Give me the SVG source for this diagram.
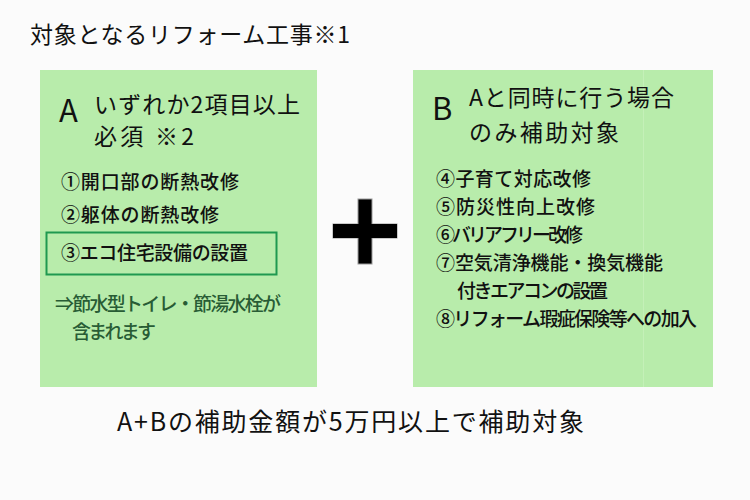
<svg xmlns="http://www.w3.org/2000/svg" width="750" height="500" viewBox="0 0 750 500">
<style>
text{font-family:"Noto Sans CJK JP","Noto Sans",sans-serif;fill:#111;font-weight:400}
.box{fill:#b8ecab}
.big{font-size:31px}
.head{font-size:23px}
.item{font-size:19px;font-weight:500}
.note{font-size:19px;fill:#285c35;font-weight:500}
.plus{fill:#000;stroke:#999;stroke-width:1}
</style>
<rect width="750" height="500" fill="#fbfbfb"/>
<g id="title"><text x="30" y="43" font-size="23" textLength="320" lengthAdjust="spacing">対象となるリフォーム工事※1</text></g>
<g id="nodeA">
<rect class="box" x="40" y="70" width="277" height="317"/>
<text class="big" x="59" y="122">A</text>
<text class="head" x="94" y="113" textLength="206" lengthAdjust="spacing">いずれか2項目以上</text>
<text class="head" x="94" y="145" textLength="100" lengthAdjust="spacing">必須 ※2</text>
<text class="item" x="61" y="189" textLength="178" lengthAdjust="spacing">①開口部の断熱改修</text>
<text class="item" x="61" y="222" textLength="158" lengthAdjust="spacing">②躯体の断熱改修</text>
<g id="item3">
<rect x="46.5" y="232.5" width="230" height="42" fill="none" stroke="#1f9950" stroke-width="2"/>
<text class="item" x="61" y="260" textLength="187" lengthAdjust="spacing">③エコ住宅設備の設置</text>
</g>
<text class="note" x="55" y="311" textLength="226" lengthAdjust="spacing">⇒節水型トイレ・節湯水栓が</text>
<text class="note" x="72" y="339" textLength="84" lengthAdjust="spacing">含まれます</text>
</g>
<g id="connectors">
<g id="plus">
<rect class="plus" x="333" y="224" width="64" height="14"/>
<rect class="plus" x="358" y="199" width="14" height="65"/>
<rect x="333" y="224" width="64" height="14" fill="#000"/>
</g>
</g>
<g id="nodeB">
<rect class="box" x="413" y="70" width="300" height="317"/>
<line x1="643.5" y1="70" x2="643.5" y2="387" stroke="#c4f0b8" stroke-width="1"/>
<text class="big" x="432" y="120">B</text>
<text class="head" x="469" y="106" textLength="205" lengthAdjust="spacing">Aと同時に行う場合</text>
<text class="head" x="469" y="141" textLength="150" lengthAdjust="spacing">のみ補助対象</text>
<text class="item" x="436" y="186" textLength="155" lengthAdjust="spacing">④子育て対応改修</text>
<text class="item" x="436" y="214" textLength="159" lengthAdjust="spacing">⑤防災性向上改修</text>
<text class="item" x="436" y="242" textLength="147" lengthAdjust="spacing">⑥バリアフリー改修</text>
<text class="item" x="436" y="270" textLength="227" lengthAdjust="spacing">⑦空気清浄機能・換気機能</text>
<text class="item" x="457" y="298" textLength="151" lengthAdjust="spacing">付きエアコンの設置</text>
<text class="item" x="436" y="326" textLength="261" lengthAdjust="spacing">⑧リフォーム瑕疵保険等への加入</text>
</g>
<g id="summary"><text x="117" y="431" font-size="25" textLength="467" lengthAdjust="spacing">A+Bの補助金額が5万円以上で補助対象</text></g>
</svg>
